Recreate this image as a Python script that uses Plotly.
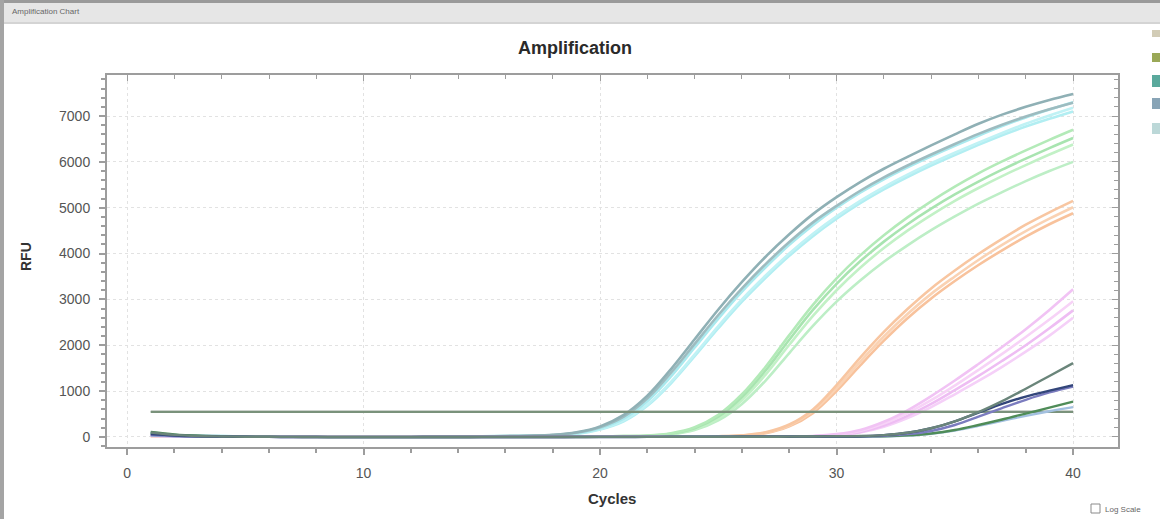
import plotly.graph_objects as go

cycles = list(range(1, 41))

# --- RFU values (one list per well) ---
cyan1 = [70,35,22,16,12,10,9,8,8,8,9,10,11,12,14,18,26,45,100,230,480,900,1480,2130,2780,3380,3930,4420,4860,5230,5560,5850,6110,6360,6600,6830,7030,7200,7350,7480]
cyan2 = [60,30,20,14,11,9,8,7,7,7,8,9,10,11,13,16,23,40,90,210,440,840,1400,2030,2660,3240,3770,4250,4680,5040,5370,5660,5920,6160,6390,6610,6810,6990,7150,7290]
cyan3 = [90,40,25,18,14,12,10,9,9,9,10,11,12,13,15,18,24,35,80,190,400,780,1320,1950,2580,3170,3700,4190,4620,5000,5330,5620,5880,6120,6350,6570,6780,6970,7140,7300]
cyan4 = [50,25,16,12,10,8,7,6,6,6,7,8,9,10,12,15,20,30,70,170,360,700,1200,1800,2420,3000,3520,4000,4430,4810,5150,5450,5720,5970,6200,6420,6630,6830,7010,7180]
cyan5 = [80,38,24,17,13,11,9,8,8,8,9,10,11,12,14,17,22,30,65,160,340,680,1170,1760,2370,2950,3470,3950,4380,4760,5100,5400,5670,5920,6150,6370,6580,6770,6940,7100]

green1 = [40,20,12,9,7,6,5,5,5,5,5,5,6,6,6,7,7,8,10,13,19,30,80,210,480,930,1530,2220,2880,3460,3960,4400,4790,5140,5460,5750,6010,6250,6480,6700]
green2 = [55,25,14,10,8,6,5,4,4,4,4,5,5,5,6,6,7,8,9,12,17,25,70,190,440,870,1450,2120,2770,3340,3830,4260,4640,4980,5290,5570,5830,6070,6300,6520]
green3 = [30,15,10,7,6,5,4,4,4,4,4,4,5,5,5,6,6,7,8,10,14,20,60,170,400,800,1360,2010,2640,3200,3690,4120,4500,4840,5150,5430,5690,5930,6160,6380]
green4 = [45,22,13,9,7,6,5,5,5,5,5,5,5,6,6,6,7,8,9,11,14,20,55,150,360,720,1230,1830,2420,2950,3410,3820,4180,4510,4810,5090,5340,5580,5800,6000]

orange1 = [20,10,6,4,3,2,2,2,2,2,2,2,2,2,2,2,3,3,3,4,4,5,7,10,15,35,100,270,600,1130,1730,2290,2790,3240,3630,3990,4320,4630,4900,5150]
orange2 = [25,12,7,5,3,2,2,2,2,2,2,2,2,2,2,2,3,3,3,4,4,5,6,8,12,30,90,250,560,1060,1640,2190,2680,3120,3500,3860,4190,4490,4760,5010]
orange3 = [15,8,5,3,2,2,2,2,2,2,2,2,2,2,2,2,2,3,3,3,4,4,5,7,10,25,80,230,520,1000,1560,2100,2590,3020,3400,3750,4070,4370,4640,4880]

pink1 = [30,14,8,5,4, 3,3,3,3,3, 3,3,3,3,3, 3,3,3,3,3, 4,4,4,5,6, 7,9,13, 20,60,150,330,580,890,1230,1590,1960,2350,2770,3220]
pink2 = [20,10,6,4,3, 2,2,2,2,2, 2,2,2,2,2, 2,2,2,2,2, 3,3,3,4,5, 6,8,11, 15,50,130,290,520,800,1120,1460,1810,2180,2560,2960]
pink3 = [25,12,7,5,4, 3,3,3,3,3, 3,3,3,3,3, 3,3,3,3,3, 3,4,4,4,5, 6,7,10,16, 40,110,250,460,720,1020,1330,1660,2000,2370,2760]
pink4 = [35,16,9,6,4, 3,3,3,3,3, 3,3,3,3,3, 3,3,3,3,3, 3,3,4,4,5, 5,6,9,14, 35,95,220,410,650,930,1220,1530,1860,2210,2600]

dark1 = [95,45,20,10,5, 2,0,-2,-3,-3, -3,-3,-2,-2,-2, -2,-1,-1,-1,0, 0,0,1,1,2, 3,4,6,9,13, 20,40,90,190,340,540,780,1050,1330,1610]
dark2 = [60,30,14,6,2, 0,-2,-3,-4,-4, -4,-4,-3,-3,-3, -3,-2,-2,-2,-1, -1,0,0,1,1, 2,3,5,7,10, 15,40,90,190,340,530,720,880,1010,1130]
dark3 = [40,20,10,5,2, 0,-1,-2,-2,-2, -2,-2,-2,-2,-1, -1,-1,-1,0,0, 0,1,1,1,2, 2,3,4,6,9, 14, 25,60,130,260,440,630,810,970,1100]
dark4 = [110,55,25,12,6, 3,1,0,-1,-1, -1,-1,-1,-1,0, 0,0,0,1,1, 1,1,2,2,2, 3,3,4,5,7, 10, 15,35,75,150,260,380,510,640,770]
dark5 = [30,15,8,4,2, 1,0,0,0,0, 0,0,0,0,0, 0,0,1,1,1, 1,1,2,2,2, 3,3,4,5,6, 8,12, 30,70,140,240,350,460,560,650]

threshold_rfu = [556, 546]
threshold_cycles = [1, 40]

x_ticks = [0, 10, 20, 30, 40]
y_ticks = [0, 1000, 2000, 3000, 4000, 5000, 6000, 7000]

series = [
    (cyan5, '#b2eef2'), (cyan4, '#c0f2f5'), (cyan3, '#a9e9ee'),
    (cyan2, '#9dbcc0'), (cyan1, '#8fb0b5'),
    (green4, '#bdeec6'), (green3, '#c2f1c6'), (green2, '#a8e4b0'), (green1, '#b3eab8'),
    (orange3, '#f8c29c'), (orange2, '#fad2b3'), (orange1, '#f8c6a1'),
    (pink4, '#f5d0f8'), (pink3, '#eebdf3'), (pink2, '#f7d3f7'), (pink1, '#f1c3f4'),
]
dark_series = [
    (dark5, '#a3c0e0'), (dark4, '#4f8c58'), (dark3, '#7b7cbf'),
    (dark2, '#33467a'), (dark1, '#6a857a'),
]

for s in [cyan1, cyan2, cyan3, cyan4, cyan5, green1, green2, green3, green4,
          orange1, orange2, orange3, pink1, pink2, pink3, pink4,
          dark1, dark2, dark3, dark4, dark5]:
    assert len(s) == 40, len(s)

fig = go.Figure()
for ys, col in series:
    fig.add_trace(go.Scatter(x=cycles, y=ys, mode='lines', line=dict(color=col, width=2.6, shape='spline'),
                             showlegend=False, hoverinfo='skip'))
th_cols = ['#9aa69a', '#7a927b']
for t, col in zip(threshold_rfu, th_cols):
    fig.add_trace(go.Scatter(x=threshold_cycles, y=[t, t], mode='lines', line=dict(color=col, width=2),
                             showlegend=False, hoverinfo='skip'))
for ys, col in dark_series:
    fig.add_trace(go.Scatter(x=cycles, y=ys, mode='lines', line=dict(color=col, width=2.4, shape='spline'),
                             showlegend=False, hoverinfo='skip'))
# helper trace for mirrored (inside) axes on top/right
fig.add_trace(go.Scatter(x=threshold_cycles, y=threshold_rfu, xaxis='x2', yaxis='y2', mode='lines',
                         line=dict(width=0), opacity=0, showlegend=False, hoverinfo='skip'))

XR = [-0.85, 41.9]
YR = [-220, 7895]
axis_col = '#9d9d9d'
tickfont = dict(family='Liberation Sans, Arial, sans-serif', size=14, color='#555555')

fig.update_layout(
    width=1160, height=519,
    margin=dict(l=107, r=42, t=75, b=72),
    paper_bgcolor='white', plot_bgcolor='white',
    xaxis=dict(range=XR, tickvals=x_ticks, ticktext=[str(v) for v in x_ticks],
               showgrid=True, gridcolor='#e2e2e2', griddash='dot', gridwidth=1,
               zeroline=False, showline=True, linecolor=axis_col, linewidth=2,
               ticks='outside', ticklen=6, tickcolor=axis_col, tickwidth=1.5,
               minor=dict(dtick=2, tick0=0, ticks='outside', ticklen=4, tickcolor=axis_col, showgrid=False),
               tickfont=tickfont, ticklabelstandoff=6),
    yaxis=dict(range=YR, tickvals=y_ticks, ticktext=[str(v) for v in y_ticks],
               showgrid=True, gridcolor='#e2e2e2', griddash='dot', gridwidth=1,
               zeroline=False, showline=True, linecolor=axis_col, linewidth=2,
               ticks='outside', ticklen=6, tickcolor=axis_col, tickwidth=1.5,
               minor=dict(dtick=200, tick0=0, ticks='outside', ticklen=4, tickcolor=axis_col, showgrid=False),
               tickfont=tickfont, ticklabelstandoff=6),
    xaxis2=dict(range=XR, overlaying='x', side='top', anchor='y2', showgrid=False, zeroline=False,
                showline=True, linecolor=axis_col, linewidth=2, tickvals=x_ticks, ticks='inside',
                ticklen=6, tickcolor=axis_col, showticklabels=False,
                minor=dict(dtick=2, tick0=0, ticks='inside', ticklen=4, tickcolor=axis_col, showgrid=False)),
    yaxis2=dict(range=YR, overlaying='y', side='right', anchor='x2', showgrid=False, zeroline=False,
                showline=True, linecolor=axis_col, linewidth=2, tickvals=y_ticks, ticks='inside',
                ticklen=6, tickcolor=axis_col, showticklabels=False,
                minor=dict(dtick=200, tick0=0, ticks='inside', ticklen=4, tickcolor=axis_col, showgrid=False)),
)

L, R, T, B = 107, 1118, 75, 447
def fx(px):
    return (px - L) / (R - L)
def fy(py):
    return (B - py) / (B - T)

shapes = [
    dict(type='rect', xref='paper', yref='paper', x0=fx(0), x1=fx(1160), y0=fy(23), y1=fy(0),
         fillcolor='#e6e6e6', line=dict(width=0), layer='below'),
    dict(type='rect', xref='paper', yref='paper', x0=fx(0), x1=fx(1160), y0=fy(3), y1=fy(0),
         fillcolor='#9a9a9a', line=dict(width=0)),
    dict(type='rect', xref='paper', yref='paper', x0=fx(0), x1=fx(1160), y0=fy(24), y1=fy(22),
         fillcolor='#d4d4d4', line=dict(width=0)),
    dict(type='rect', xref='paper', yref='paper', x0=fx(0), x1=fx(4), y0=fy(519), y1=fy(0),
         fillcolor='#a4a4a4', line=dict(width=0)),
    dict(type='rect', xref='paper', yref='paper', x0=fx(1091), x1=fx(1100), y0=fy(513), y1=fy(504),
         fillcolor='white', line=dict(color='#8a8a8a', width=1)),
    dict(type='rect', xref='paper', yref='paper', x0=fx(1152), x1=fx(1160), y0=fy(37), y1=fy(30),
         fillcolor='#d2ccb6', line=dict(width=0)),
    dict(type='rect', xref='paper', yref='paper', x0=fx(1152), x1=fx(1160), y0=fy(62), y1=fy(53),
         fillcolor='#9aa857', line=dict(width=0)),
    dict(type='rect', xref='paper', yref='paper', x0=fx(1152), x1=fx(1160), y0=fy(87), y1=fy(75),
         fillcolor='#5aa99c', line=dict(width=0)),
    dict(type='rect', xref='paper', yref='paper', x0=fx(1152), x1=fx(1160), y0=fy(109), y1=fy(98),
         fillcolor='#88a4b6', line=dict(width=0)),
    dict(type='rect', xref='paper', yref='paper', x0=fx(1152), x1=fx(1160), y0=fy(134), y1=fy(123),
         fillcolor='#bcd8d8', line=dict(width=0)),
]

annotations = [
    dict(text='Amplification Chart', xref='paper', yref='paper', x=fx(10), y=fy(12), xanchor='left',
         yanchor='middle', showarrow=False, font=dict(family='Liberation Sans, Arial', size=8, color='#666666')),
    dict(text='<b>Amplification</b>', xref='paper', yref='paper', x=fx(575), y=fy(48), xanchor='center',
         yanchor='middle', showarrow=False, font=dict(family='Liberation Sans, Arial', size=18, color='#2a2a2a')),
    dict(text='<b>Cycles</b>', xref='paper', yref='paper', x=fx(612), y=fy(498), xanchor='center',
         yanchor='middle', showarrow=False, font=dict(family='Liberation Sans, Arial', size=15, color='#333333')),
    dict(text='<b>RFU</b>', xref='paper', yref='paper', x=fx(26), y=fy(257), xanchor='center',
         yanchor='middle', showarrow=False, textangle=-90,
         font=dict(family='Liberation Sans, Arial', size=14, color='#333333')),
    dict(text='Log Scale', xref='paper', yref='paper', x=fx(1103), y=fy(509), xanchor='left',
         yanchor='middle', showarrow=False, font=dict(family='Liberation Sans, Arial', size=8, color='#666666')),
]
fig.update_layout(shapes=shapes, annotations=annotations)

fig.write_html('out.html')
